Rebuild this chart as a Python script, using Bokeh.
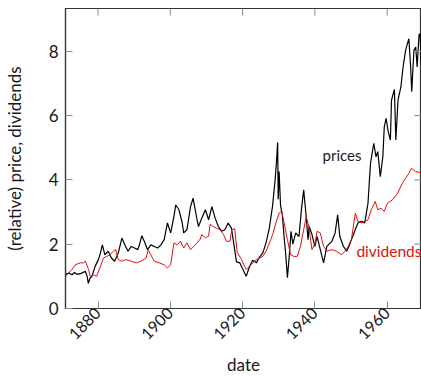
import math
from bokeh.plotting import figure
from bokeh.models import FixedTicker, Range1d
from bokeh.core.properties import value
from bokeh.embed import file_html
from bokeh.resources import INLINE

price_years = [1871.0, 1872.0, 1872.8, 1873.5, 1874.3, 1875.5, 1876.5, 1877.0, 1877.3, 1877.8,
               1878.3, 1879.2, 1880.1, 1880.6, 1881.2, 1881.9, 1882.8, 1883.7, 1884.6, 1885.6,
               1886.3, 1886.6, 1887.4, 1888.3, 1889.2, 1890.1, 1891.0, 1891.5, 1892.1, 1892.8,
               1893.7, 1894.6, 1895.6, 1896.5, 1897.4, 1898.3, 1899.2, 1900.1, 1901.0, 1901.5,
               1902.4, 1903.3, 1903.7, 1904.6, 1905.6, 1906.3, 1907.4, 1907.8, 1908.7, 1909.7,
               1910.6, 1911.5, 1912.4, 1913.3, 1914.2, 1915.1, 1916.0, 1916.9, 1917.4, 1918.3,
               1919.2, 1920.1, 1921.0, 1921.9, 1922.8, 1923.8, 1924.7, 1925.6, 1926.5, 1927.4,
               1928.3, 1929.0, 1929.4, 1929.7, 1929.85, 1930.1, 1930.5, 1931.0, 1931.5, 1931.9,
               1932.4, 1932.9, 1933.4, 1933.9, 1934.7, 1935.6, 1936.3, 1936.9, 1937.6, 1938.1,
               1938.4, 1939.2, 1940.0, 1940.6, 1941.5, 1942.4, 1943.3, 1944.7, 1945.6, 1946.3,
               1946.9, 1947.9, 1948.8, 1949.4, 1950.1, 1951.0, 1951.9, 1952.9, 1953.8, 1954.7,
               1955.1, 1955.4, 1956.3, 1956.9, 1957.4, 1958.1, 1958.8, 1959.2, 1959.7, 1960.3,
               1960.9, 1961.2, 1962.0, 1962.4, 1963.0, 1963.8, 1964.4, 1965.1, 1965.6, 1966.0,
               1966.5, 1966.8, 1967.4, 1967.9, 1968.3, 1968.8, 1969.1, 1969.4, 1969.6]
price_values = [1.07, 1.10, 1.05, 1.12, 1.06, 1.10, 1.16, 1.00, 0.78, 0.95,
                1.00, 1.31, 1.52, 1.70, 1.98, 1.67, 1.78, 1.57, 1.47, 1.73,
                2.05, 2.19, 1.98, 1.78, 1.93, 1.88, 1.83, 2.00, 2.26, 2.09,
                1.83, 1.98, 1.93, 1.88, 1.98, 2.14, 2.66, 2.35, 2.86, 3.22,
                3.07, 2.66, 2.35, 2.45, 3.17, 3.43, 2.76, 2.55, 2.81, 3.07,
                2.76, 3.17, 2.81, 2.55, 2.40, 2.45, 2.66, 2.50, 2.14, 1.45,
                1.42, 1.21, 1.00, 1.30, 1.50, 1.42, 1.60, 1.73, 2.05, 2.50,
                3.20, 4.00, 4.60, 5.16, 3.40, 4.26, 3.20, 2.90, 2.20, 1.73,
                0.96, 1.62, 2.40, 2.00, 2.35, 2.24, 3.10, 3.69, 2.86, 2.14,
                2.55, 2.30, 1.93, 2.24, 1.83, 1.42, 1.93, 2.09, 2.35, 2.91,
                2.24, 1.93, 1.78, 1.93, 2.14, 2.40, 2.66, 2.71, 2.66, 3.28,
                4.00, 4.52, 5.14, 4.72, 4.88, 4.10, 4.72, 5.65, 5.91, 5.50,
                5.24, 6.48, 6.81, 5.24, 6.48, 6.89, 7.51, 8.03, 8.24, 8.39,
                7.51, 6.74, 8.03, 8.13, 7.51, 8.50, 8.55, 7.72, 7.41]

div_years = [1871.0, 1872.0, 1872.8, 1873.7, 1875.1, 1876.0, 1876.5, 1877.4, 1877.8, 1878.7,
             1879.6, 1880.5, 1881.5, 1882.4, 1883.3, 1884.2, 1884.9, 1885.6, 1886.5, 1887.8,
             1889.2, 1890.6, 1891.9, 1893.3, 1893.9, 1894.6, 1895.6, 1896.9, 1898.3, 1899.2,
             1900.1, 1901.0, 1901.9, 1902.8, 1903.7, 1904.6, 1905.6, 1906.9, 1908.3, 1908.7,
             1909.7, 1910.6, 1911.0, 1911.9, 1912.8, 1913.8, 1914.7, 1915.6, 1916.5, 1917.0,
             1917.8, 1918.5, 1919.7, 1920.1, 1921.0, 1921.9, 1922.8, 1923.8, 1924.7, 1925.6,
             1926.5, 1927.4, 1928.3, 1929.2, 1930.1, 1930.8, 1931.5, 1932.4, 1933.3, 1934.2,
             1935.1, 1936.0, 1936.9, 1937.6, 1938.3, 1939.2, 1940.1, 1940.6, 1941.5, 1942.4,
             1943.3, 1944.7, 1946.0, 1947.4, 1948.3, 1949.2, 1950.1, 1951.2, 1951.9, 1952.9,
             1953.8, 1954.7, 1955.6, 1956.7, 1957.4, 1958.3, 1959.2, 1960.1, 1961.5, 1962.9,
             1964.2, 1965.1, 1966.0, 1966.7, 1967.9, 1969.6]
div_values = [1.00, 1.12, 1.21, 1.36, 1.42, 1.42, 1.47, 1.21, 1.00, 1.05,
              1.00, 1.26, 1.57, 1.62, 1.67, 1.78, 1.83, 1.52, 1.47, 1.52,
              1.47, 1.42, 1.47, 1.57, 1.83, 1.67, 1.47, 1.42, 1.36, 1.26,
              1.36, 2.04, 1.98, 2.09, 1.88, 2.04, 1.83, 1.98, 2.16, 2.30,
              2.20, 2.25, 2.62, 2.55, 2.50, 2.45, 2.30, 2.09, 2.09, 2.45,
              2.48, 1.75, 1.52, 1.42, 1.21, 1.31, 1.42, 1.52, 1.57, 1.62,
              1.78, 2.04, 2.29, 2.66, 2.97, 3.02, 2.66, 2.14, 1.67, 1.62,
              1.62, 1.93, 2.45, 2.86, 2.55, 1.83, 2.04, 2.40, 2.35, 1.93,
              1.78, 1.83, 1.78, 1.67, 1.78, 1.93, 2.14, 2.97, 2.71, 2.66,
              2.71, 2.76, 3.07, 3.33, 3.07, 3.12, 3.02, 3.28, 3.38, 3.59,
              3.90, 4.05, 4.20, 4.36, 4.26, 4.22]

x_ticks = [1880, 1900, 1920, 1940, 1960]
y_ticks = [0, 2, 4, 6, 8]
x_start, x_end = 1871, 1969.5
y_start, y_end = 0, 9.33

FONT = "Lato"
TXT = "#1a1a1a"
RED = "#dd1111"
TICK = "#888888"

p = figure(width=421, height=377, output_backend="svg", toolbar_location=None,
           x_range=Range1d(x_start, x_end), y_range=Range1d(y_start, y_end),
           min_border_left=60, min_border_right=0, min_border_top=8, min_border_bottom=68,
           x_axis_label="date", y_axis_label="(relative) price, dividends")
p.grid.visible = False
p.outline_line_color = "#333333"
p.outline_line_width = 1.2

p.line(price_years, price_values, line_color="black", line_width=1.2)
p.line(div_years, div_values, line_color=RED, line_width=1.0)

# mirrored ticks on top and right sides (inside), like the reference
p.ray(x=x_ticks, y=[y_end] * len(x_ticks), length=7, length_units="screen",
      angle=-math.pi / 2, line_color=TICK, line_width=1)
p.ray(x=[x_end] * len(y_ticks), y=y_ticks, length=7, length_units="screen",
      angle=math.pi, line_color=TICK, line_width=1)

p.text(x=[1952.9], y=[4.78], text=["prices"], text_align="right", text_baseline="middle",
       text_font=value(FONT), text_font_size="15px", text_color=TXT)
p.text(x=[1951.5], y=[1.80], text=["dividends"], text_align="left", text_baseline="middle",
       text_font=value(FONT), text_font_size="15.5px", text_color=RED)

def style(ax):
    ax.major_tick_in = 7
    ax.major_tick_out = 0
    ax.minor_tick_in = 0
    ax.minor_tick_out = 0
    ax.major_tick_line_color = TICK
    ax.axis_line_color = "#333333"
    ax.axis_line_width = 1.2
    ax.major_label_text_font = FONT
    ax.major_label_text_color = TXT
    ax.major_label_text_font_size = "17px"
    ax.axis_label_text_font = FONT
    ax.axis_label_text_color = TXT
    ax.axis_label_text_font_style = "normal"
    ax.axis_label_text_font_size = "17px"

xa = p.xaxis[0]
xa.ticker = FixedTicker(ticks=x_ticks)
style(xa)
xa.major_label_text_font_size = "16px"
xa.major_label_orientation = math.pi / 4
xa.major_label_standoff = 2
xa.axis_label_standoff = 6

ya = p.yaxis[0]
ya.ticker = FixedTicker(ticks=y_ticks)
style(ya)
ya.major_label_standoff = 7
ya.axis_label_standoff = 21

open("out.html", "w").write(file_html(p, INLINE))
